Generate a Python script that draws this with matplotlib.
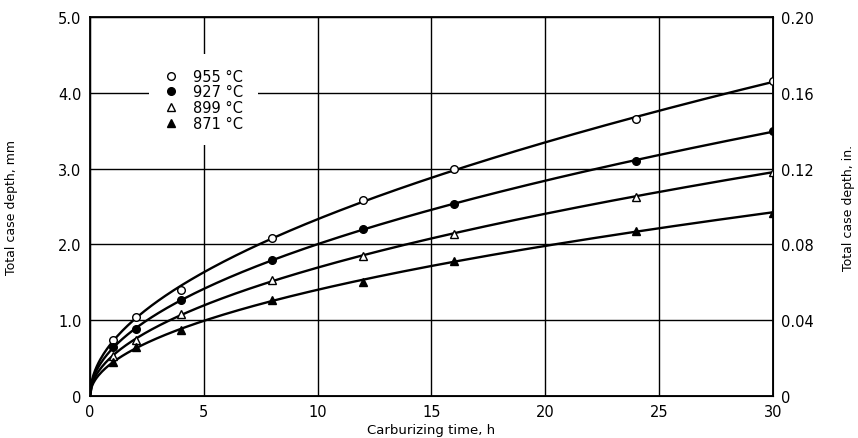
import numpy as np
import matplotlib
matplotlib.use('Agg')
import matplotlib.pyplot as plt

plt.rcParams['font.family'] = ['DejaVu Sans']

# carburizing time, h
time_h = [1, 2, 4, 8, 12, 16, 24, 30]

# total case depth, mm
depth_955 = [0.74, 1.04, 1.40, 2.08, 2.59, 2.99, 3.66, 4.15]
depth_927 = [0.65, 0.88, 1.27, 1.79, 2.20, 2.53, 3.10, 3.50]
depth_899 = [0.53, 0.74, 1.08, 1.53, 1.85, 2.14, 2.63, 2.96]
depth_871 = [0.45, 0.65, 0.87, 1.27, 1.50, 1.78, 2.18, 2.42]

labels = ['955 °C', '927 °C', '899 °C', '871 °C']
series = [depth_955, depth_927, depth_899, depth_871]
markers = [('o', 'white'), ('o', 'black'), ('^', 'white'), ('^', 'black')]

x_ticks = [0, 5, 10, 15, 20, 25, 30]
y_ticks_mm = [0, 1.0, 2.0, 3.0, 4.0, 5.0]
y_labels_mm = ['0', '1.0', '2.0', '3.0', '4.0', '5.0']
y_ticks_in = [0, 0.04, 0.08, 0.12, 0.16, 0.20]
y_labels_in = ['0', '0.04', '0.08', '0.12', '0.16', '0.20']


def fit_curve(t, d):
    # least squares d = a*sqrt(t) + b*t through the origin
    t = np.asarray(t, float)
    A = np.column_stack([np.sqrt(t), t])
    coef, *_ = np.linalg.lstsq(A, np.asarray(d, float), rcond=None)
    tt = np.linspace(0, 30, 400)
    return tt, coef[0] * np.sqrt(tt) + coef[1] * tt


fig = plt.figure(figsize=(8.58, 4.39), dpi=100)
ax = fig.add_axes([0.1049, 0.0957, 0.7960, 0.8633])

for d, lab, (m, fc) in zip(series, labels, markers):
    tt, dd = fit_curve(time_h, d)
    ax.plot(tt, dd, color='black', lw=1.7, zorder=3)
    ax.plot(time_h, d, linestyle='none', marker=m, markersize=5.5,
            markerfacecolor=fc, markeredgecolor='black', markeredgewidth=1.0,
            label=lab, zorder=4)

ax.set_xlim(0, 30)
ax.set_ylim(0, 5.0)
ax.set_xticks(x_ticks)
ax.set_yticks(y_ticks_mm)
ax.set_yticklabels(y_labels_mm)
ax.grid(True, color='black', lw=1.0, zorder=1)
ax.tick_params(length=0, labelsize=10.5, pad=6)
for s in ax.spines.values():
    s.set_linewidth(1.3)

ax.set_xlabel('Carburizing time, h', fontsize=9.5, labelpad=3)
ax.set_ylabel('Total case depth, mm', fontsize=9, labelpad=29)

ax2 = ax.twinx()
ax2.set_ylim(0, 0.20)
ax2.set_yticks(y_ticks_in)
ax2.set_yticklabels(y_labels_in)
ax2.tick_params(length=0, labelsize=10.5, pad=6)
ax2.set_ylabel('Total case depth, in.', fontsize=9, labelpad=20)

leg = ax.legend(loc='upper left', bbox_to_anchor=(0.087, 0.902),
                frameon=True, fontsize=10.5, handletextpad=1.0,
                labelspacing=0.05, borderpad=1.0, handlelength=1.0,
                borderaxespad=0)
leg.get_frame().set_facecolor('white')
leg.get_frame().set_edgecolor('none')
leg.get_frame().set_alpha(1)
leg.set_zorder(2)

fig.savefig('out.png', dpi=100)
